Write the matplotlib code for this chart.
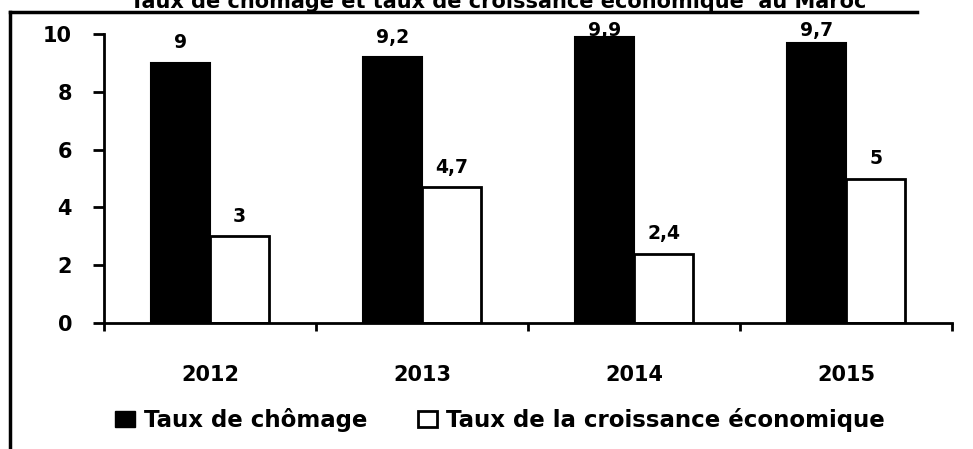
import matplotlib
matplotlib.use("Agg")
import matplotlib.pyplot as plt
from matplotlib.patches import Patch
from matplotlib.lines import Line2D

years = ["2012", "2013", "2014", "2015"]
chomage = [9, 9.2, 9.9, 9.7]
croissance = [3, 4.7, 2.4, 5]
labels_chomage = ["9", "9,2", "9,9", "9,7"]
labels_croissance = ["3", "4,7", "2,4", "5"]
series_names = ["Taux de chômage", "Taux de la croissance économique"]
title = "Taux de chômage et taux de croissance économique  au Maroc"

plt.rcParams["font.family"] = "DejaVu Sans"
plt.rcParams["font.weight"] = "bold"

fig = plt.figure(figsize=(9.73, 4.49), dpi=100)
ax = fig.add_axes([104/973, 1 - 323/449, (952 - 104)/973, (323 - 34)/449])

x = list(range(len(years)))
w = 0.28
ax.bar([i - w/2 for i in x], chomage, width=w, color="black", edgecolor="black", linewidth=1.5)
ax.bar([i + w/2 for i in x], croissance, width=w, color="white", edgecolor="black", linewidth=2)

# value labels (Excel pushes the high ones down under the top of the plot area)
for i in x:
    ax.text(i - w/2, min(chomage[i] + 0.5, 9.93), labels_chomage[i], ha="center", va="baseline",
            fontsize=13.5, fontweight="bold", clip_on=False)
    ax.text(i + w/2, croissance[i] + 0.5, labels_croissance[i], ha="center", va="baseline",
            fontsize=13.5, fontweight="bold", clip_on=False)

ax.set_xlim(-0.5, 3.5)
ax.set_ylim(0, 10)
ax.set_yticks([0, 2, 4, 6, 8, 10])
ax.set_xticks(x)
ax.set_xticklabels(years)
ax.set_xticks([-0.5, 0.5, 1.5, 2.5, 3.5], minor=True)
ax.tick_params(axis="x", which="major", length=0, pad=30, labelsize=15)
ax.tick_params(axis="x", which="minor", length=6, width=2, direction="out")
ax.tick_params(axis="y", length=8, width=2, direction="out", pad=15, labelsize=15)
for lab in ax.get_xticklabels() + ax.get_yticklabels():
    lab.set_fontweight("bold")

for s in ["top", "right"]:
    ax.spines[s].set_visible(False)
for s in ["left", "bottom"]:
    ax.spines[s].set_linewidth(2)

# outer frame (only left and top edges visible in the scan)
fig.add_artist(Line2D([10/973, 10/973], [0, 1 - 12/449], color="black", linewidth=2.5))
fig.add_artist(Line2D([10/973, 917/973], [1 - 12/449, 1 - 12/449], color="black", linewidth=2.5))

# title, cut off at the top of the picture
fig.text(498/973, 1 - 8/449, title, ha="center", va="baseline", fontsize=15, fontweight="bold")

handles = [Patch(facecolor="black", edgecolor="black"),
           Patch(facecolor="white", edgecolor="black", linewidth=2)]
fig.legend(handles, series_names, loc="center", bbox_to_anchor=(500/973, 1 - 420/449),
           ncol=2, frameon=False, prop={"size": 16.5, "weight": "bold"},
           handlelength=0.85, handleheight=0.7, handletextpad=0.4, columnspacing=2.2)

fig.savefig("out.png", dpi=100)
